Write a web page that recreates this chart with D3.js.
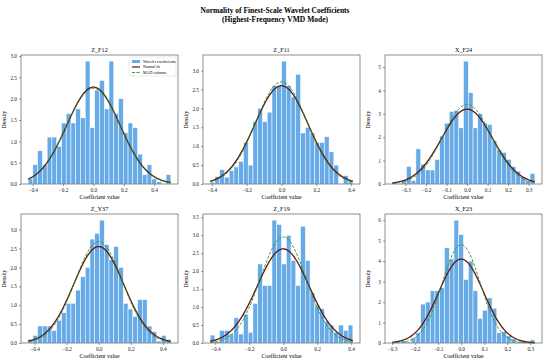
<!DOCTYPE html>
<html>
<head>
<meta charset="utf-8">
<script src="https://cdn.jsdelivr.net/npm/d3@7"></script>
<style>
  body { margin: 0; background: #fff; }
  svg { display: block; font-family: "Liberation Serif", "DejaVu Serif", serif; }
</style>
</head>
<body>
<div id="chart"></div>
<script>
// panel names, read left-to-right, top-to-bottom
const panels = ["Z_F12", "Z_F11", "X_F24", "Z_Y37", "Z_F19", "X_F23"];

// histogram range (first edge, last edge), 30 bins each
const binLo = [-0.43, -0.41, -0.365, -0.44, -0.43, -0.30];
const binHi = [0.51, 0.41, 0.33, 0.45, 0.41, 0.32];

// bar densities
const densZF12 = [0.12, 0.45, 0.78, 0.45, 1.1, 1.1, 0.88, 1.43, 1.65, 1.43, 1.76, 1.55, 2.88, 1.32, 2.2,
  2.43, 1.76, 2.88, 1.65, 2.0, 1.2, 1.43, 1.32, 0.7, 0.22, 0.45, 0.12, 0.05, 0.0, 0.22];
const densZF11 = [0.05, 0.2, 0.38, 0.18, 0.35, 0.45, 0.6, 1.1, 0.5, 1.65, 2.0, 1.65, 1.9, 2.6, 2.6,
  3.25, 2.6, 2.3, 2.9, 1.35, 1.5, 1.35, 1.1, 1.1, 1.25, 0.85, 0.5, 0.0, 0.22, 0.1];
const densXF24 = [0.05, 0.0, 0.15, 0.75, 0.15, 1.5, 0.85, 0.6, 0.6, 1.05, 2.05, 2.6, 3.1, 3.15, 2.4,
  5.25, 3.9, 2.4, 3.0, 2.6, 2.55, 1.85, 1.45, 1.35, 1.05, 0.75, 0.55, 0.3, 0.15, 0.45];
const densZY37 = [0.1, 0.2, 0.45, 0.45, 0.45, 0.33, 0.6, 0.8, 1.05, 1.05, 1.4, 1.75, 2.0, 2.75, 2.9,
  3.25, 2.6, 2.2, 2.55, 2.0, 1.05, 0.9, 0.7, 1.15, 1.15, 0.45, 0.3, 0.05, 0.2, 0.1];
const densZF19 = [0.22, 0.05, 0.35, 0.35, 0.25, 0.7, 0.25, 0.8, 0.3, 1.1, 2.2, 1.6, 1.6, 3.42, 3.3,
  2.2, 3.0, 2.3, 1.6, 3.25, 2.3, 1.4, 1.05, 0.95, 0.6, 0.5, 0.3, 0.5, 0.35, 0.5];
const densXF23 = [0.05, 0.0, 0.1, 0.05, 0.25, 0.5, 1.9, 2.0, 2.55, 2.55, 2.7, 4.65, 4.1, 6.0, 5.3,
  3.1, 4.0, 2.55, 1.2, 1.6, 2.2, 1.7, 0.5, 0.55, 0.35, 0.2, 0.05, 0.1, 0.05, 0.15];
const densities = [densZF12, densZF11, densXF24, densZY37, densZF19, densXF23];

// fitted normal (mean, sd) and MAD-based sd
const fitMu = [0.0, 0.0, 0.0, 0.0, 0.0, 0.0];
const fitSd = [0.1757, 0.1534, 0.1247, 0.1564, 0.1523, 0.0973];
const madSd = [0.178, 0.1478, 0.1173, 0.1489, 0.1352, 0.0831];

// tick labels
const xTicks = [
  [-0.4, -0.2, 0, 0.2, 0.4], [-0.4, -0.2, 0, 0.2, 0.4], [-0.3, -0.2, -0.1, 0, 0.1, 0.2, 0.3],
  [-0.4, -0.2, 0, 0.2, 0.4], [-0.4, -0.2, 0, 0.2, 0.4], [-0.3, -0.2, -0.1, 0, 0.1, 0.2, 0.3]
];
const yTicks = [
  [0, 0.5, 1, 1.5, 2, 2.5, 3], [0, 0.5, 1, 1.5, 2, 2.5, 3], [0, 1, 2, 3, 4, 5],
  [0, 0.5, 1, 1.5, 2, 2.5, 3], [0, 0.5, 1, 1.5, 2, 2.5, 3, 3.5], [0, 1, 2, 3, 4, 5, 6]
];
const yFormat = [".1f", ".1f", "d", ".1f", ".1f", "d"];

const legendLabels = ["Wavelet coefficients", "Normal fit", "MAD estimate"];

const W = 550, H = 362;
const colLeft = [21, 203, 385], rowTop = [55, 214];
const pw = 157, ph = 129;
const barColor = "#66abe8", fitColor = "#5e1a0c", madColor = "#2e8b2e";

const svg = d3.select("#chart").append("svg")
  .attr("width", W).attr("height", H);

svg.append("text")
  .attr("x", W / 2).attr("y", 13)
  .attr("text-anchor", "middle")
  .style("font-size", "7.5px").style("font-weight", "bold")
  .text("Normality of Finest-Scale Wavelet Coefficients");
svg.append("text")
  .attr("x", W / 2).attr("y", 22)
  .attr("text-anchor", "middle")
  .style("font-size", "7.5px").style("font-weight", "bold")
  .text("(Highest-Frequency VMD Mode)");

const normPdf = (x, mu, sd) => Math.exp(-0.5 * ((x - mu) / sd) ** 2) / (sd * Math.sqrt(2 * Math.PI));

panels.forEach((name, i) => {
  const g = svg.append("g")
    .attr("transform", `translate(${colLeft[i % 3]},${rowTop[Math.floor(i / 3)]})`);

  const dens = densities[i];
  const lo = binLo[i], hi = binHi[i];
  const bw = (hi - lo) / dens.length;
  const pad = (hi - lo) * 0.05;

  const x = d3.scaleLinear().domain([lo - pad, hi + pad]).range([0, pw]);
  const y = d3.scaleLinear().domain([0, d3.max(dens) * 1.05]).range([ph, 0]);

  const bins = dens.map((d, k) => ({ x0: lo + k * bw, x1: lo + (k + 1) * bw, v: d }));

  g.selectAll("rect.bar")
    .data(bins)
    .enter()
    .append("rect")
    .attr("class", "bar")
    .attr("x", d => x(d.x0))
    .attr("y", d => y(d.v))
    .attr("width", d => x(d.x1) - x(d.x0))
    .attr("height", d => ph - y(d.v))
    .attr("fill", barColor)
    .attr("stroke", "#fff")
    .attr("stroke-width", 0.5);

  const xs = d3.range(0, 201).map(k => lo + (hi - lo) * k / 200);
  const line = d3.line().x(d => x(d[0])).y(d => y(d[1]));

  g.append("path")
    .datum(xs.map(v => [v, normPdf(v, fitMu[i], fitSd[i])]))
    .attr("fill", "none")
    .attr("stroke", fitColor)
    .attr("stroke-width", 1.3)
    .attr("d", line);

  g.append("path")
    .datum(xs.map(v => [v, normPdf(v, 0, madSd[i])]))
    .attr("fill", "none")
    .attr("stroke", madColor)
    .attr("stroke-width", 0.9)
    .attr("stroke-dasharray", "3 1.5")
    .attr("d", line);

  // axes
  const xAxis = g.append("g")
    .attr("transform", `translate(0,${ph})`)
    .call(d3.axisBottom(x).tickValues(xTicks[i]).tickFormat(d3.format(".1f")).tickSize(2).tickPadding(2));
  const yAxis = g.append("g")
    .call(d3.axisLeft(y).tickValues(yTicks[i]).tickFormat(d3.format(yFormat[i])).tickSize(2).tickPadding(2));
  [xAxis, yAxis].forEach(a => {
    a.select(".domain").remove();
    a.selectAll("line").attr("stroke", "#333").attr("stroke-width", 0.5);
    a.selectAll("text").style("font-size", "5.3px").style("font-family", "Liberation Serif").attr("fill", "#222");
  });

  g.append("rect")
    .attr("width", pw).attr("height", ph)
    .attr("fill", "none")
    .attr("stroke", "#444")
    .attr("stroke-width", 0.6);

  g.append("text")
    .attr("x", pw / 2).attr("y", -3)
    .attr("text-anchor", "middle")
    .style("font-size", "6.2px")
    .text(name);

  g.append("text")
    .attr("x", pw / 2).attr("y", ph + 15)
    .attr("text-anchor", "middle")
    .style("font-size", "5.8px")
    .text("Coefficient value");

  g.append("text")
    .attr("transform", "rotate(-90)")
    .attr("x", -ph / 2).attr("y", -15)
    .attr("text-anchor", "middle")
    .style("font-size", "5.8px")
    .text("Density");

  if (i === 0) {
    const lg = g.append("g").attr("transform", `translate(${pw - 49},2)`);
    lg.append("rect")
      .attr("width", 47).attr("height", 19)
      .attr("fill", "#fff").attr("fill-opacity", 0.85)
      .attr("stroke", "#ccc").attr("stroke-width", 0.4).attr("rx", 1);
    lg.append("rect")
      .attr("x", 3).attr("y", 3).attr("width", 8).attr("height", 3)
      .attr("fill", barColor);
    lg.append("line")
      .attr("x1", 3).attr("x2", 11).attr("y1", 10).attr("y2", 10)
      .attr("stroke", fitColor).attr("stroke-width", 1.2);
    lg.append("line")
      .attr("x1", 3).attr("x2", 11).attr("y1", 15.5).attr("y2", 15.5)
      .attr("stroke", madColor).attr("stroke-width", 0.9).attr("stroke-dasharray", "3 1.5");
    lg.selectAll("text.lbl")
      .data(legendLabels)
      .enter()
      .append("text")
      .attr("class", "lbl")
      .attr("x", 14)
      .attr("y", (d, k) => 5.5 + k * 5.5)
      .style("font-size", "4px")
      .text(d => d);
  }
});
</script>
</body>
</html>
